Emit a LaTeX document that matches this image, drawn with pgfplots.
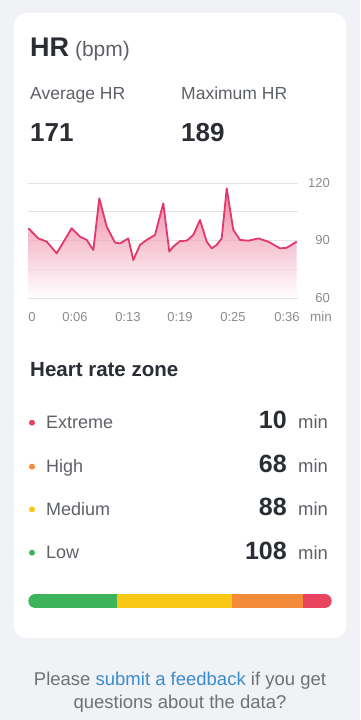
\documentclass[border=0pt]{standalone}
\usepackage{fontspec}
\setmainfont{Liberation Sans}
\usepackage{pgfplots}
\usepackage{pgfplotstable}
\pgfplotsset{compat=1.18}
\definecolor{bg}{HTML}{F1F2F6}
\definecolor{hr}{HTML}{E3386B}
\definecolor{dark}{HTML}{2A2D33}
\definecolor{mid}{HTML}{5E6166}
\definecolor{tick}{HTML}{8A8C90}
\definecolor{gridc}{HTML}{E4E4E7}
\definecolor{zred}{HTML}{E8435F}
\definecolor{zorange}{HTML}{F38B3B}
\definecolor{zyellow}{HTML}{F9C816}
\definecolor{zgreen}{HTML}{3DB35C}
\definecolor{link}{HTML}{3A8CCB}
\newcommand{\fs}[1]{\fontsize{#1}{#1}\selectfont}

\pgfplotstableread{
x y
28.3 96.4
38.3 91.1
46.7 89.4
56.7 83.3
71.7 96.4
80.0 92.0
86.7 90.3
93.3 85.0
99.3 112.0
106.7 97.2
115.0 88.9
120.0 88.5
128.3 91.1
133.3 79.8
140.0 87.7
146.7 90.3
155.0 92.9
163.3 109.4
169.3 84.2
173.3 86.8
180.0 89.7
186.7 89.9
193.3 92.9
200.0 100.7
206.7 89.4
211.7 85.9
216.7 87.7
221.7 91.1
226.7 117.2
233.3 95.5
240.0 90.3
248.3 89.9
258.3 91.1
268.3 89.4
280.0 85.9
286.7 86.2
296.7 89.4
}\hrdata

% same series, closed down to the 60 bpm baseline for the shaded area
\pgfplotstableread{
x y
28.3 60
28.3 96.4
38.3 91.1
46.7 89.4
56.7 83.3
71.7 96.4
80.0 92.0
86.7 90.3
93.3 85.0
99.3 112.0
106.7 97.2
115.0 88.9
120.0 88.5
128.3 91.1
133.3 79.8
140.0 87.7
146.7 90.3
155.0 92.9
163.3 109.4
169.3 84.2
173.3 86.8
180.0 89.7
186.7 89.9
193.3 92.9
200.0 100.7
206.7 89.4
211.7 85.9
216.7 87.7
221.7 91.1
226.7 117.2
233.3 95.5
240.0 90.3
248.3 89.9
258.3 91.1
268.3 89.4
280.0 85.9
286.7 86.2
296.7 89.4
296.7 60
}\hrarea

\begin{document}
\begin{tikzpicture}[x=1pt,y=1pt]
\fill[bg] (0,0) rectangle (360,720);
\fill[white, rounded corners=12pt] (14,82) rectangle (346,707);

% header
\node[anchor=base west, inner sep=0, text=dark] at (30,663) {\fs{27}\bfseries HR\fs{21}\mdseries\ \color{mid}(bpm)};
\node[anchor=base west, inner sep=0, text=mid] at (30,620) {\fs{17.5}Average HR};
\node[anchor=base west, inner sep=0, text=mid] at (181,620) {\fs{17.5}Maximum HR};
\node[anchor=base west, inner sep=0, text=dark] at (30,578) {\fs{26}\bfseries 171};
\node[anchor=base west, inner sep=0, text=dark] at (181,578) {\fs{26}\bfseries 189};

% HR chart
\begin{axis}[at={(28pt,422pt)}, anchor=south west, scale only axis,
  width=270pt, height=115pt, xmin=28, xmax=298, ymin=60, ymax=120,
  axis line style={draw=none}, major tick length=0pt,
  ytick={60,75,90,105,120}, yticklabels={60,,90,,120},
  ymajorgrids, grid style={gridc, line width=0.8pt},
  yticklabel pos=right,
  xtick={32,75,128,180,233,287}, xticklabels={0,0:06,0:13,0:19,0:25,0:36},
  /pgf/number format/assume math mode=true,
  xticklabel style={font=\fs{13}, text=tick, anchor=base, inner sep=0pt, yshift=-24pt},
  yticklabel style={font=\fs{13}, text=tick, anchor=base east, inner sep=0pt, xshift=32pt, yshift=-4.5pt},
  clip=false]
\addplot[draw=none, top color=hr!85!white, bottom color=white, fill opacity=0.7] table[x=x, y=y] {\hrarea} -- cycle;
\addplot[hr, line width=1.8pt, line join=round] table[x=x, y=y] {\hrdata};
\end{axis}
\node[anchor=base, inner sep=0, text=tick] at (321,398) {\fs{13.5}min};

% zones
\node[anchor=base west, inner sep=0, text=dark] at (30,343) {\fs{20.5}\bfseries Heart rate zone};

\fill[zred] (32,297.3) circle (3);
\fill[zorange] (32,253.3) circle (3);
\fill[zyellow] (32,210.7) circle (3);
\fill[zgreen] (32,167.3) circle (3);

\node[anchor=base west, inner sep=0, text=mid] at (46,291.5) {\fs{18}Extreme};
\node[anchor=base west, inner sep=0, text=mid] at (46,247.5) {\fs{18}High};
\node[anchor=base west, inner sep=0, text=mid] at (46,204.5) {\fs{18}Medium};
\node[anchor=base west, inner sep=0, text=mid] at (46,161) {\fs{18}Low};

\node[anchor=base east, inner sep=0, text=dark] at (287,291) {\fs{25}\bfseries 10};
\node[anchor=base east, inner sep=0, text=dark] at (287,247) {\fs{25}\bfseries 68};
\node[anchor=base east, inner sep=0, text=dark] at (287,204) {\fs{25}\bfseries 88};
\node[anchor=base east, inner sep=0, text=dark] at (287,160.5) {\fs{25}\bfseries 108};

\foreach \yy in {291,247,204,160.5}{
  \node[anchor=base west, inner sep=0, text=mid] at (298,\yy) {\fs{18.5}min};
}

% zone bar
\begin{scope}
\clip[rounded corners=7pt] (28.3,112) rectangle (331.7,126);
\begin{axis}[at={(28.3pt,112pt)}, anchor=south west, scale only axis,
  width=303.4pt, height=14pt, xmin=0, xmax=303.4, ymin=-0.5, ymax=0.5,
  hide axis, xbar stacked, bar width=14pt]
\addplot[fill=zgreen, draw=none] coordinates {(88.4,0)};
\addplot[fill=zyellow, draw=none] coordinates {(115.6,0)};
\addplot[fill=zorange, draw=none] coordinates {(71,0)};
\addplot[fill=zred, draw=none] coordinates {(28.4,0)};
\end{axis}
\end{scope}

% footer
\node[anchor=base, inner sep=0, text=mid!90!white] at (180,34) {\fs{18.5}Please \textcolor{link}{submit a feedback} if you get};
\node[anchor=base, inner sep=0, text=mid!90!white] at (180,12) {\fs{18.5}questions about the data?};
\end{tikzpicture}
\end{document}
